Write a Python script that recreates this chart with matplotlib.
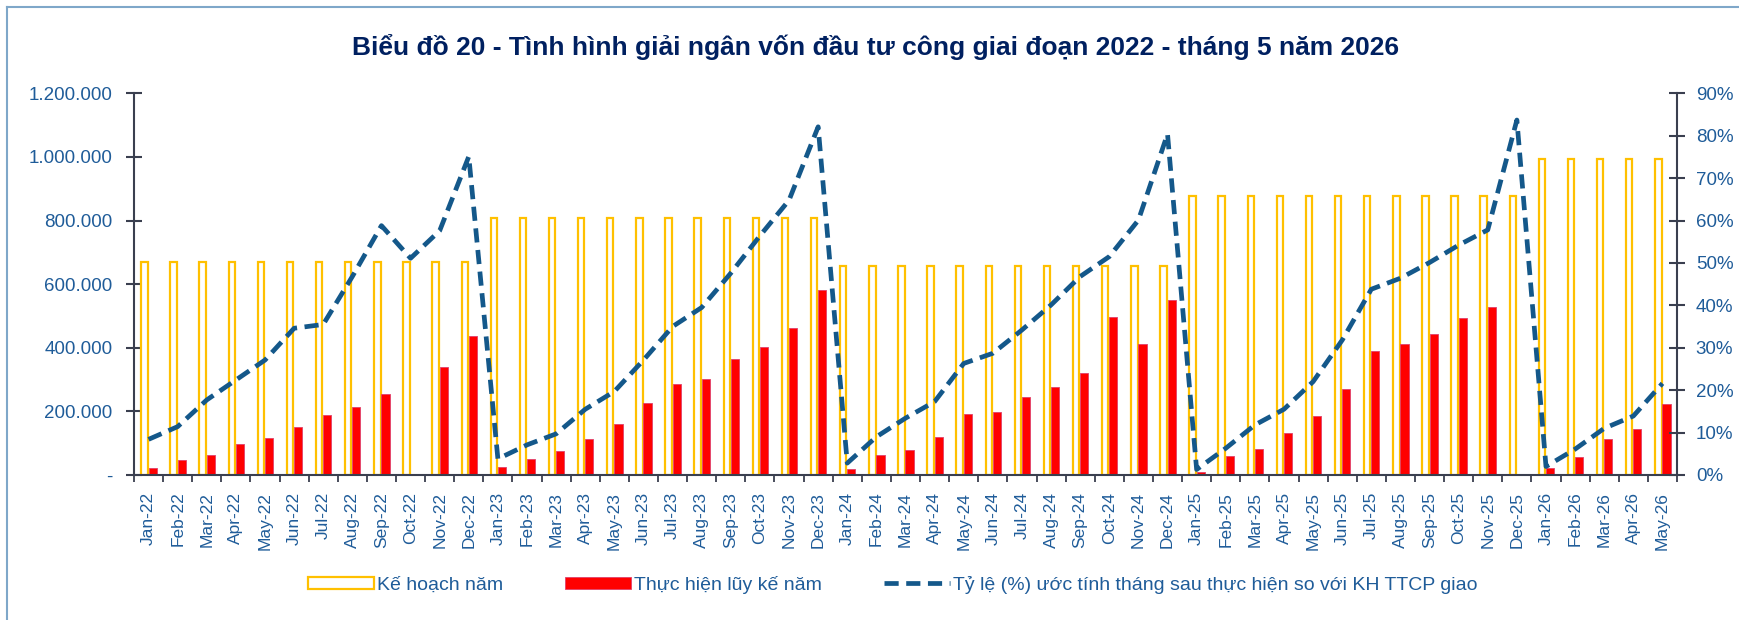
import matplotlib
matplotlib.use("Agg")
import matplotlib.pyplot as plt
import numpy as np
from matplotlib.lines import Line2D
from matplotlib.ticker import FuncFormatter, FixedLocator

plt.rcParams['font.family'] = ['Liberation Sans', 'DejaVu Sans']

# months Jan-22 .. May-26
months = ['Jan', 'Feb', 'Mar', 'Apr', 'May', 'Jun', 'Jul', 'Aug', 'Sep', 'Oct', 'Nov', 'Dec']
labels = [f"{m}-{y}" for y in ['22', '23', '24', '25'] for m in months] + \
         [f"{m}-26" for m in months[:5]]

# annual plan (bn VND)
plan = [670000] * 12 + [807000] * 12 + [657000] * 12 + [877000] * 12 + [993000] * 5

# cumulative disbursement (bn VND)
actual = [23000, 47000, 63000, 97000, 117000, 152000, 189000, 214000, 255000, 2000, 341000, 437000,
          26000, 51000, 75000, 112000, 159000, 225000, 286000, 301000, 365000, 403000, 463000, 582000,
          19000, 62000, 79000, 118000, 192000, 198000, 246000, 276000, 322000, 498000, 412000, 550000,
          10500, 61000, 81000, 131000, 185000, 269000, 390000, 411000, 442000, 493000, 529000, 2000,
          21000, 58000, 112000, 146000, 222000]

# ratio (%) estimated vs plan
ratio = [8.4, 11.4, 17.7, 22.4, 27.1, 34.6, 35.5, 46.8, 58.8, 51.1, 57.6, 75.1,
         3.8, 7.1, 9.7, 15.5, 19.7, 27.1, 35.0, 39.5, 47.6, 56.4, 64.8, 82.1,
         2.8, 9.0, 13.4, 17.3, 26.3, 28.7, 34.2, 40.1, 46.8, 51.5, 60.1, 80.4,
         1.3, 6.3, 11.8, 15.5, 22.0, 31.8, 43.8, 46.4, 50.1, 54.2, 57.8, 83.7,
         2.0, 6.1, 11.0, 13.9, 21.6]

blue_txt = '#1F5C99'
navy = '#002060'
line_col = '#14588A'
axis_col = '#3A3F4F'

fig = plt.figure(figsize=(17.4, 6.2), dpi=100)
ax = fig.add_axes([0.0770, 0.2339, 0.8868, 0.6156])
ax2 = ax.twinx()

x = np.arange(len(labels))
ax.bar(x - 0.14, plan, width=0.22, facecolor='white', edgecolor='#FFC000', linewidth=1.6,
       label='Kế hoạch năm', zorder=2)
ax.bar(x + 0.14, actual, width=0.28, facecolor='#FF0000', edgecolor='#E0406A', linewidth=0.6,
       label='Thực hiện lũy kế năm', zorder=2)
ax2.plot(x, ratio, color=line_col, linewidth=3.4, linestyle=(0, (3, 1.6)),
         label='Tỷ lệ (%) ước tính tháng sau thực hiện so với KH TTCP giao', zorder=3)

ax.set_xlim(-0.5, len(labels) - 0.5)
ax.set_ylim(0, 1200000)
ax2.set_ylim(0, 90)
ax.set_yticks(np.arange(0, 1200001, 200000))
ax2.set_yticks(np.arange(0, 91, 10))
ax.yaxis.set_major_formatter(FuncFormatter(lambda v, p: '-' if v == 0 else f"{int(v):,}".replace(',', '.')))
ax2.yaxis.set_major_formatter(FuncFormatter(lambda v, p: f"{int(round(v))}%"))

ax.set_xticks(x)
ax.set_xticklabels(labels, rotation=90)
ax.xaxis.set_minor_locator(FixedLocator(np.arange(-0.5, len(labels), 1)))
ax.tick_params(axis='x', which='major', length=0, pad=12, labelsize=12.5, labelcolor=blue_txt)
ax.tick_params(axis='x', which='minor', length=5, width=1.3, color=axis_col, direction='out')
ax.tick_params(axis='y', direction='inout', length=11, width=1.5, color=axis_col,
               labelsize=13.5, labelcolor=blue_txt, pad=10)
ax2.tick_params(axis='y', direction='inout', length=11, width=1.5, color=axis_col,
                labelsize=13.5, labelcolor=blue_txt, pad=8)

for a in (ax, ax2):
    a.spines['top'].set_visible(False)
    for s in ('left', 'right', 'bottom'):
        a.spines[s].set_color(axis_col)
        a.spines[s].set_linewidth(1.5)
ax.spines['right'].set_visible(False)
ax2.spines['left'].set_visible(False)
ax2.spines['bottom'].set_visible(False)

fig.text(0.503, 0.925, 'Biểu đồ 20 - Tình hình giải ngân vốn đầu tư công giai đoạn 2022 - tháng 5 năm 2026',
         ha='center', va='center', fontsize=19, fontweight='bold', color=navy)

# outer frame (top and left edges visible)
frame_col = '#7FA7C9'
fig.add_artist(Line2D([7 / 1740, 1.0], [1 - 7 / 620, 1 - 7 / 620], transform=fig.transFigure,
                      color=frame_col, linewidth=1.5))
fig.add_artist(Line2D([7 / 1740, 7 / 1740], [0.0, 1 - 7 / 620], transform=fig.transFigure,
                      color=frame_col, linewidth=1.5))

h1, l1 = ax.get_legend_handles_labels()
h2, l2 = ax2.get_legend_handles_labels()
leg = fig.legend(h1 + h2, l1 + l2, loc='center', bbox_to_anchor=(0.513, 0.0565), ncol=3,
                 frameon=False, fontsize=14, handlelength=3.4, handleheight=0.6,
                 handletextpad=0.15, columnspacing=3.2)
for t in leg.get_texts():
    t.set_color(blue_txt)

fig.savefig('out.png', dpi=100)
